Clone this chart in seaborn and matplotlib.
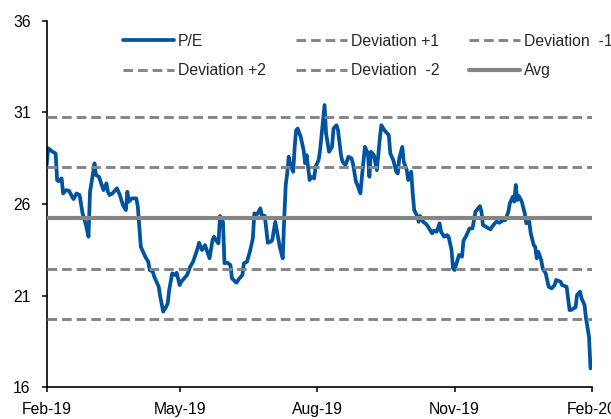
import pandas as pd
import matplotlib
matplotlib.use("Agg")
import matplotlib.pyplot as plt
import matplotlib.dates as mdates
import seaborn as sns

# P/E series: days after 1 Feb 2019 and the P/E value
days = [0, 1, 4, 6, 7, 8, 10, 11, 13, 15, 17, 18, 20, 22, 24, 26, 28, 29, 31, 32,
        33, 35, 38, 40, 41, 42, 44, 47, 49, 51, 53, 54, 55, 57, 60, 61, 62, 63, 66, 68,
        69, 71, 72, 75, 76, 78, 80, 81, 82, 84, 86, 87, 89, 90, 94, 96, 98, 101, 102, 104,
        106, 109, 111, 112, 114, 115, 116, 118, 119, 121, 123, 124, 127, 129, 131, 132, 134, 136, 138, 139,
        141, 143, 144, 146, 148, 150, 151, 153, 154, 156, 158, 159, 160, 161, 162, 163, 165, 166, 167, 168,
        170, 172, 173, 174, 176, 177, 179, 180, 182, 183, 185, 186, 187, 189, 191, 192, 194, 195, 197, 198,
        200, 202, 204, 205, 207, 208, 210, 211, 213, 215, 216, 217, 219, 221, 223, 224, 226, 229, 230, 232,
        234, 235, 236, 238, 239, 241, 242, 244, 245, 246, 248, 249, 250, 252, 254, 255, 258, 259, 261, 263,
        264, 266, 268, 269, 271, 272, 273, 275, 276, 278, 279, 281, 283, 285, 287, 290, 291, 292, 294, 297,
        299, 301, 303, 305, 307, 309, 310, 312, 313, 314, 315, 316, 318, 320, 321, 323, 324, 326, 327, 328,
        329, 331, 332, 334, 336, 338, 340, 341, 344, 345, 348, 350, 351, 354, 355, 357, 358, 360, 361, 363,
        364]
pe = [28.13, 29.04, 28.85, 28.76, 27.30, 27.25, 27.40, 26.58, 26.76, 26.72, 26.40, 26.27, 26.58, 26.49, 25.50, 24.95, 24.22, 26.67, 27.67, 28.22,
      27.58, 27.49, 26.76, 27.13, 26.67, 26.49, 26.58, 26.86, 26.49, 25.95, 25.67, 26.67, 26.13, 26.31, 26.31, 25.85, 24.76, 23.67, 23.13, 22.85,
      22.40, 22.31, 22.04, 21.49, 20.95, 20.13, 20.40, 20.58, 21.31, 22.22, 22.13, 22.25, 21.58, 21.76, 22.13, 22.58, 22.85, 23.58, 23.89, 23.49,
      23.76, 23.04, 24.04, 24.22, 23.95, 23.86, 25.35, 25.03, 22.77, 22.80, 22.67, 21.95, 21.71, 21.95, 22.13, 22.77, 22.85, 23.40, 24.13, 25.49,
      25.45, 25.77, 25.40, 25.35, 23.89, 23.95, 24.04, 25.03, 24.58, 23.67, 23.04, 25.22, 27.04, 27.67, 28.58, 28.18, 27.76, 29.12, 30.03, 30.12,
      29.67, 28.94, 28.22, 28.67, 27.31, 27.49, 27.40, 28.03, 28.40, 28.94, 30.58, 31.40, 29.86, 28.85, 29.12, 30.12, 30.30, 30.03, 28.67, 28.31,
      28.13, 28.58, 28.49, 28.22, 27.22, 27.04, 26.58, 27.49, 29.12, 28.76, 27.49, 28.85, 28.67, 27.85, 29.58, 30.30, 30.03, 29.76, 28.76, 28.40,
      27.76, 27.67, 28.49, 29.12, 28.31, 27.85, 27.31, 27.76, 26.58, 25.67, 25.35, 25.03, 25.35, 25.03, 24.91, 24.80, 24.40, 24.54, 24.49, 24.95,
      24.49, 24.22, 24.31, 24.22, 23.49, 22.49, 22.40, 22.95, 23.22, 23.13, 24.00, 24.30, 24.67, 24.67, 25.58, 25.89, 25.58, 24.86, 24.76, 24.62,
      24.86, 25.04, 24.98, 25.09, 25.13, 25.58, 26.04, 26.40, 26.13, 27.04, 26.22, 26.44, 26.13, 25.49, 24.95, 25.04, 24.40, 23.76, 23.67, 23.04,
      23.40, 22.95, 22.49, 22.22, 21.49, 21.40, 21.58, 21.86, 21.76, 21.58, 21.49, 20.22, 20.22, 20.37, 21.04, 21.22, 20.86, 20.49, 19.77, 18.76,
      17.04]

pe_avg = 25.24
pe_std = 2.76
tick_labels_dates = ["2019-02-01", "2019-05-01", "2019-08-01", "2019-11-01", "2020-02-01"]
y_ticks = [16, 21, 26, 31, 36]

df = pd.DataFrame({
    "date": pd.Timestamp("2019-02-01") + pd.to_timedelta(days, unit="D"),
    "pe": pe,
})

sns.set_style("ticks")
plt.rcParams['font.family'] = ['Liberation Sans', 'DejaVu Sans']
plt.rcParams['font.size'] = 11.3

blue = "#00539F"
grey = "#858585"

fig = plt.figure(figsize=(6.11, 4.19), dpi=100)
ax = fig.add_axes([0.0764, 0.0754, 0.8925, 0.8752])

sns.lineplot(data=df, x="date", y="pe", ax=ax, color=blue, linewidth=2.7, label="P/E", zorder=2)

dash = (0, (3.3, 1.7))
ax.axhline(pe_avg + 2 * pe_std, color=grey, linewidth=2.1, linestyle=dash, label="Deviation +2", zorder=3)
ax.axhline(pe_avg + pe_std, color=grey, linewidth=2.1, linestyle=dash, label="Deviation +1", zorder=3)
ax.axhline(pe_avg - 2 * pe_std, color=grey, linewidth=2.1, linestyle=dash, label="Deviation  -2", zorder=3)
ax.axhline(pe_avg - pe_std, color=grey, linewidth=2.1, linestyle=dash, label="Deviation  -1", zorder=3)
ax.axhline(pe_avg, color=grey, linewidth=3.0, label="Avg", zorder=3)

ax.set_xlim(pd.Timestamp("2019-02-01"), pd.Timestamp("2020-02-01"))
ax.set_ylim(16, 36)
ax.set_yticks(y_ticks)
ax.set_xticks(pd.to_datetime(tick_labels_dates))
ax.xaxis.set_major_formatter(mdates.DateFormatter("%b-%y"))
ax.set_xlabel("")
ax.set_ylabel("")

sns.despine(ax=ax)
for s in ["left", "bottom"]:
    ax.spines[s].set_linewidth(1.2)
    ax.spines[s].set_color("black")
ax.tick_params(axis="both", direction="out", length=3.6, width=1.1, color="black",
               labelsize=11.3, labelcolor="black")
ax.tick_params(axis="y", pad=8)
ax.tick_params(axis="x", pad=7)

handles, labels = ax.get_legend_handles_labels()
lookup = dict(zip(labels, handles))
order = ["P/E", "Deviation +2", "Deviation +1", "Deviation  -2", "Deviation  -1", "Avg"]
ax.legend([lookup[k] for k in order], order, ncol=3, frameon=False,
          loc="upper left", bbox_to_anchor=(123 / 611, 1 - 33.5 / 419),
          bbox_transform=fig.transFigure, borderpad=0, borderaxespad=0,
          handlelength=3.25, handletextpad=0.25, columnspacing=1.9,
          labelspacing=0.94, fontsize=11.3)

fig.savefig("out.png", dpi=100)
